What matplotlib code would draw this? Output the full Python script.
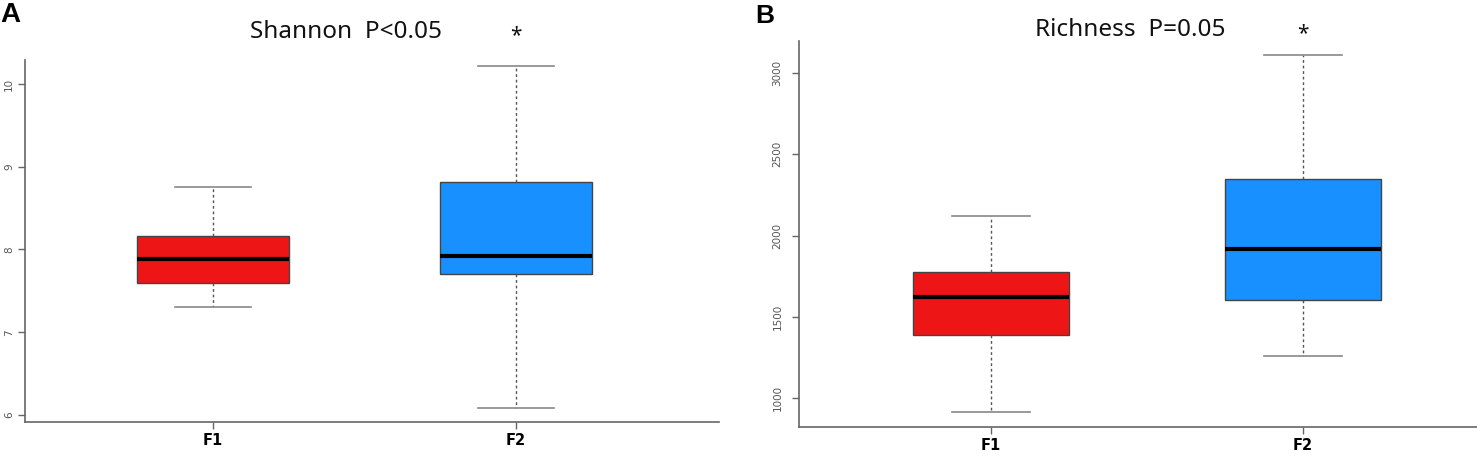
import matplotlib
matplotlib.use("Agg")
import matplotlib.pyplot as plt
import matplotlib.transforms as mtransforms

groups = ["F1", "F2"]
box_colors = ["#ED1515", "#1890FF"]

# Shannon: lower whisker, Q1, median, Q3, upper whisker
shannon_low = [7.31, 6.08]
shannon_q1 = [7.59, 7.70]
shannon_med = [7.88, 7.92]
shannon_q3 = [8.16, 8.82]
shannon_high = [8.76, 10.22]
shannon_ticks = [6, 7, 8, 9, 10]

# Richness
rich_low = [914, 1260]
rich_q1 = [1388, 1602]
rich_med = [1622, 1915]
rich_q3 = [1777, 2345]
rich_high = [2120, 3112]
rich_ticks = [1000, 1500, 2000, 2500, 3000]

W, H = 1477, 459
fig = plt.figure(figsize=(W / 100, H / 100), dpi=100)


def px_axes(x0, x1, ytop, ybot):
    return fig.add_axes([x0 / W, 1 - ybot / H, (x1 - x0) / W, (ybot - ytop) / H])


def draw_panel(ax, low, q1, med, q3, high, ticks, xlim, ylim, ypad):
    stats = []
    for i in range(len(groups)):
        stats.append(dict(whislo=low[i], q1=q1[i], med=med[i], q3=q3[i],
                          whishi=high[i], fliers=[], label=groups[i]))
    bp = ax.bxp(stats, positions=[1, 2], widths=0.5, patch_artist=True,
                showfliers=False,
                boxprops=dict(edgecolor="#444444", linewidth=1.0),
                medianprops=dict(color="black", linewidth=3.0),
                whiskerprops=dict(color="#555555", linewidth=1.0, linestyle=(0, (2, 2))),
                capprops=dict(color="#888888", linewidth=1.2),
                capwidths=0.25)
    for patch, c in zip(bp["boxes"], box_colors):
        patch.set_facecolor(c)
    ax.set_xlim(*xlim)
    ax.set_ylim(*ylim)
    for s in ["top", "right"]:
        ax.spines[s].set_visible(False)
    for s in ["left", "bottom"]:
        ax.spines[s].set_color("#666666")
        ax.spines[s].set_linewidth(1.2)
    ax.set_yticks(ticks)
    ax.set_yticklabels([str(t) for t in ticks], rotation=90, va="center",
                       fontsize=7.5, color="#555555")
    ax.tick_params(axis="both", direction="out", length=5, width=1, color="#666666")
    ax.tick_params(axis="y", pad=ypad)
    ax.tick_params(axis="x", pad=3)
    ax.set_xticks([1, 2])
    ax.set_xticklabels(groups, fontsize=10.5, fontweight="bold",
                       family=["Liberation Sans Narrow", "DejaVu Sans"])


axA = px_axes(25, 719, 60, 422)
draw_panel(axA, shannon_low, shannon_q1, shannon_med, shannon_q3, shannon_high,
           shannon_ticks, (0.3795, 2.670), (5.915, 10.29), 3)

axB = px_axes(799, 1477, 41, 427)
draw_panel(axB, rich_low, rich_q1, rich_med, rich_q3, rich_high,
           rich_ticks, (0.3846, 2.558), (821.5, 3197), 7)

title_font = ["Noto Sans", "DejaVu Sans"]
fig.text(346 / W, 1 - 32 / H, "Shannon  P<0.05", ha="center", va="center",
         fontsize=17.5, family=title_font, color="#111111")
fig.text(1130 / W, 1 - 30 / H, "Richness  P=0.05", ha="center", va="center",
         fontsize=17.5, family=title_font, color="#111111")

# significance stars above F2
for ax, yy in [(axA, 36), (axB, 34)]:
    tr = mtransforms.blended_transform_factory(ax.transData, fig.transFigure)
    ax.text(2, 1 - yy / H, "*", transform=tr, ha="center", va="center",
            fontsize=15, family=title_font, color="#111111")

fig.text(0 / W, 1 - 15 / H, "A", ha="left", va="center", fontsize=20,
         fontweight="bold", family=["Liberation Sans", "DejaVu Sans"])
fig.text(755 / W, 1 - 16 / H, "B", ha="left", va="center", fontsize=19,
         fontweight="bold", family=["Liberation Sans", "DejaVu Sans"])

fig.savefig("out.png", dpi=100)
